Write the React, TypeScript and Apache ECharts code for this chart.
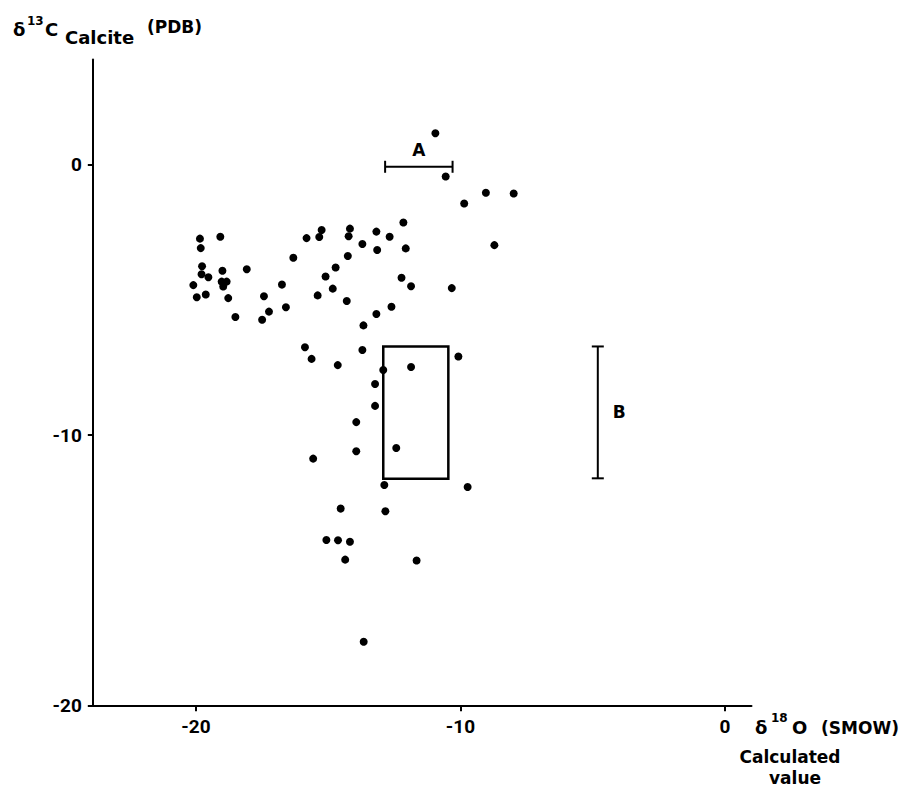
import React, { useEffect, useRef } from 'react';
import * as echarts from 'echarts';

// Tick values
const xTicks = [-20, -10, 0];
const yTicks = [-20, -10, 0];

// delta18O (SMOW) vs delta13C calcite (PDB)
const isotopePoints: [number, number][] = [
  [-19.85, -2.73], [-19.08, -2.66], [-19.82, -3.08], [-15.82, -2.71], [-16.32, -3.44],
  [-19.77, -3.75], [-19.0, -3.92], [-18.08, -3.86], [-19.79, -4.05], [-19.53, -4.16],
  [-19.03, -4.32], [-18.84, -4.32], [-18.97, -4.5], [-20.1, -4.45], [-16.75, -4.43],
  [-19.97, -4.9], [-19.63, -4.8], [-18.78, -4.93], [-17.43, -4.86], [-16.6, -5.27],
  [-17.24, -5.43], [-18.51, -5.63], [-17.5, -5.73], [-15.34, -2.67], [-15.25, -2.41],
  [-14.23, -2.64], [-14.18, -2.36], [-13.71, -2.93], [-13.18, -2.47], [-13.15, -3.15],
  [-12.68, -2.66], [-12.16, -2.13], [-12.07, -3.09], [-14.26, -3.37], [-14.72, -3.8],
  [-15.1, -4.13], [-14.83, -4.58], [-15.4, -4.83], [-14.3, -5.04], [-12.23, -4.18],
  [-11.87, -4.49], [-12.61, -5.25], [-13.18, -5.52], [-13.67, -5.94], [-10.95, 1.17],
  [-10.56, -0.43], [-9.04, -1.03], [-7.99, -1.06], [-9.86, -1.43], [-8.72, -2.97],
  [-10.33, -4.56], [-15.88, -6.75], [-15.63, -7.18], [-14.64, -7.41], [-13.71, -6.85],
  [-12.92, -7.59], [-11.87, -7.48], [-10.08, -7.09], [-13.23, -8.11], [-13.23, -8.92],
  [-13.94, -9.52], [-13.94, -10.6], [-15.57, -10.87], [-12.43, -10.48], [-12.88, -11.85],
  [-9.73, -11.92], [-14.53, -12.72], [-12.84, -12.82], [-15.07, -13.88], [-14.63, -13.89],
  [-14.18, -13.95], [-14.36, -14.61], [-11.66, -14.64], [-13.66, -17.65],
];

// Calculated-value box: [x1, y1, x2, y2]
const calcBox = [-12.92, -6.72, -10.46, -11.62];
// Range A (horizontal): [xFrom, xTo, y]
const rangeA = [-12.85, -10.3, -0.07];
// Range B (vertical): [yFrom, yTo, x]
const rangeB = [-6.72, -11.6, -4.81];

const FONT = '"DejaVu Sans", sans-serif';
const LABEL_FONT = '"Liberation Sans Narrow", Roboto, sans-serif';

function txt(text: string, x: number, y: number, size: number, align = 'left', weight = 'bold') {
  return {
    type: 'text',
    x,
    y,
    silent: true,
    style: {
      text,
      fill: '#000',
      font: `${weight} ${size}px ${FONT}`,
      align,
      verticalAlign: 'middle',
    },
  };
}

export default function App() {
  const ref = useRef<HTMLDivElement>(null);

  useEffect(() => {
    if (!ref.current) return;
    const chart = echarts.init(ref.current, undefined, { renderer: 'svg' });

    const option: any = {
      animation: false,
      backgroundColor: '#fff',
      grid: {
        left: 92.8,
        right: 150.5,
        top: 59.5,
        bottom: 83.7,
        outerBoundsMode: 'none',
      },
      xAxis: {
        type: 'value',
        min: -23.9,
        max: 1,
        axisLine: { show: true, onZero: false, lineStyle: { color: '#000', width: 2 } },
        axisTick: { show: true, length: 6, customValues: xTicks, lineStyle: { color: '#000', width: 2 } },
        axisLabel: {
          customValues: xTicks,
          margin: 12,
          fontSize: 19,
          fontWeight: 'bold',
          color: '#000',
          fontFamily: LABEL_FONT,
        },
        splitLine: { show: false },
      },
      yAxis: {
        type: 'value',
        min: -20,
        max: 3.9,
        axisLine: { show: true, onZero: false, lineStyle: { color: '#000', width: 2 } },
        axisTick: { show: true, length: 5, customValues: yTicks, lineStyle: { color: '#000', width: 2 } },
        axisLabel: {
          customValues: yTicks,
          margin: 11,
          fontSize: 19,
          fontWeight: 'bold',
          color: '#000',
          fontFamily: LABEL_FONT,
        },
        splitLine: { show: false },
      },
      series: [
        {
          type: 'scatter',
          data: isotopePoints,
          symbol: 'circle',
          symbolSize: 8,
          itemStyle: { color: '#000', opacity: 1 },
          silent: true,
        },
        {
          type: 'custom',
          coordinateSystem: 'cartesian2d',
          data: [calcBox],
          encode: { x: [0, 2], y: [1, 3] },
          silent: true,
          renderItem: (params: any, api: any) => {
            const p1 = api.coord([api.value(0), api.value(1)]);
            const p2 = api.coord([api.value(2), api.value(3)]);
            return {
              type: 'rect',
              shape: {
                x: Math.min(p1[0], p2[0]),
                y: Math.min(p1[1], p2[1]),
                width: Math.abs(p2[0] - p1[0]),
                height: Math.abs(p2[1] - p1[1]),
              },
              style: { fill: 'none', stroke: '#000', lineWidth: 2.5 },
            };
          },
        },
        {
          type: 'custom',
          coordinateSystem: 'cartesian2d',
          data: [rangeA],
          encode: { x: [0, 1], y: 2 },
          silent: true,
          renderItem: (params: any, api: any) => {
            const a = api.coord([api.value(0), api.value(2)]);
            const b = api.coord([api.value(1), api.value(2)]);
            const s = { stroke: '#000', lineWidth: 2 };
            return {
              type: 'group',
              children: [
                { type: 'line', shape: { x1: a[0], y1: a[1], x2: b[0], y2: b[1] }, style: s },
                { type: 'line', shape: { x1: a[0], y1: a[1] - 6, x2: a[0], y2: a[1] + 6 }, style: s },
                { type: 'line', shape: { x1: b[0], y1: b[1] - 6, x2: b[0], y2: b[1] + 6 }, style: s },
                {
                  type: 'text',
                  x: (a[0] + b[0]) / 2,
                  y: a[1] - 17,
                  style: { text: 'A', fill: '#000', font: `bold 17px ${FONT}`, align: 'center', verticalAlign: 'middle' },
                },
              ],
            };
          },
        },
        {
          type: 'custom',
          coordinateSystem: 'cartesian2d',
          data: [rangeB],
          encode: { x: 2, y: [0, 1] },
          silent: true,
          renderItem: (params: any, api: any) => {
            const a = api.coord([api.value(2), api.value(0)]);
            const b = api.coord([api.value(2), api.value(1)]);
            const s = { stroke: '#000', lineWidth: 2 };
            return {
              type: 'group',
              children: [
                { type: 'line', shape: { x1: a[0], y1: a[1], x2: b[0], y2: b[1] }, style: s },
                { type: 'line', shape: { x1: a[0] - 6, y1: a[1], x2: a[0] + 6, y2: a[1] }, style: s },
                { type: 'line', shape: { x1: b[0] - 6, y1: b[1], x2: b[0] + 6, y2: b[1] }, style: s },
                {
                  type: 'text',
                  x: a[0] + 15,
                  y: (a[1] + b[1]) / 2,
                  style: { text: 'B', fill: '#000', font: `bold 17px ${FONT}`, align: 'left', verticalAlign: 'middle' },
                },
              ],
            };
          },
        },
      ],
      graphic: [
        // Y-axis title: δ13C Calcite (PDB)
        txt('δ', 13, 29, 18),
        txt('13', 27, 21, 12),
        txt('C', 45, 29, 18),
        txt('Calcite', 65, 37, 18),
        txt('(PDB)', 147, 27, 17),
        // X-axis title: δ18O (SMOW) Calculated value
        txt('δ', 755, 727, 18),
        txt('18', 771, 718, 12),
        txt('O', 792, 727, 18),
        txt('(SMOW)', 821, 728, 17),
        txt('Calculated', 790, 757, 17, 'center'),
        txt('value', 795, 778, 17, 'center'),
      ],
    };

    chart.setOption(option);
    return () => chart.dispose();
  }, []);

  return (
    <div
      ref={ref}
      style={{ position: 'fixed', left: 0, top: 0, width: 902, height: 789, background: '#fff' }}
    />
  );
}
